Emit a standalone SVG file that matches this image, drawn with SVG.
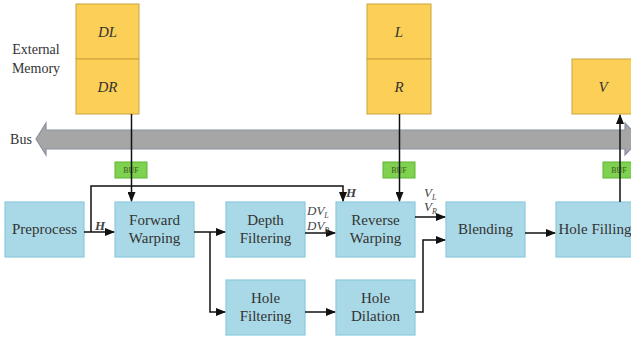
<svg xmlns="http://www.w3.org/2000/svg" width="631" height="339" viewBox="0 0 631 339" font-family="'Liberation Serif','DejaVu Serif',serif">
<defs>
<marker id="ah" markerWidth="10" markerHeight="8" refX="9" refY="4" orient="auto" markerUnits="userSpaceOnUse">
<path d="M0,0 L10,4 L0,8 z" fill="#111"/>
</marker>
<style>
text{font-family:'Liberation Serif','DejaVu Serif',serif}
.blk{fill:#a9d9e6;stroke:#8ccadc;stroke-width:1.2}
.mem{fill:#fcd057;stroke:#caa43c;stroke-width:1}
.buf{fill:#7ed24f;stroke:#5fb535;stroke-width:1}
.t{font-size:15px;fill:#333;text-anchor:middle}
.ti{font-size:15px;font-style:italic;fill:#333;text-anchor:middle}
.bt{font-size:8px;fill:#3b5a1f;text-anchor:middle}
.lab{font-size:13px;font-style:italic;fill:#444}
.sub{font-size:8px}
.ln{fill:none;stroke:#111;stroke-width:1.5}
</style>
</defs>
<rect width="631" height="339" fill="#fff"/>

<text class="t" x="36" y="54" style="font-size:14px">External</text>
<text class="t" x="36" y="73" style="font-size:14px">Memory</text>
<text class="t" x="21" y="144" style="font-size:14px">Bus</text>

<g id="bus">
<polygon points="36,139 46,123 46,130 625,130 625,123 640,139 625,155 625,149 46,149 46,155" fill="#a6a6a6" stroke="#8890a0" stroke-width="1.2"/>
</g>

<g id="mem-d">
<rect class="mem" x="76" y="4" width="63" height="55"/>
<rect class="mem" x="76" y="59" width="63" height="55"/>
<text class="ti" x="107.5" y="37">DL</text>
<text class="ti" x="107.5" y="92">DR</text>
</g>
<g id="mem-lr">
<rect class="mem" x="367" y="4" width="64" height="55"/>
<rect class="mem" x="367" y="59" width="64" height="55"/>
<text class="ti" x="399" y="37">L</text>
<text class="ti" x="399" y="92">R</text>
</g>
<g id="mem-v">
<rect class="mem" x="572" y="59" width="70" height="55"/>
<text class="ti" x="603" y="92">V</text>
</g>

<g id="buf1"><rect class="buf" x="115" y="162" width="32" height="16"/><text class="bt" x="131" y="173">BUF</text></g>
<g id="buf2"><rect class="buf" x="383" y="162" width="32" height="16"/><text class="bt" x="399" y="173">BUF</text></g>
<g id="buf3"><rect class="buf" x="603" y="162" width="32" height="16"/><text class="bt" x="619" y="173">BUF</text></g>

<g id="preprocess"><rect class="blk" x="5" y="202" width="79" height="55"/><text class="t" x="44.5" y="234">Preprocess</text></g>
<g id="forward-warping"><rect class="blk" x="115" y="202" width="79" height="55"/><text class="t" x="154.5" y="225">Forward</text><text class="t" x="154.5" y="243">Warping</text></g>
<g id="depth-filtering"><rect class="blk" x="226" y="202" width="79" height="55"/><text class="t" x="265.5" y="225">Depth</text><text class="t" x="265.5" y="243">Filtering</text></g>
<g id="hole-filtering"><rect class="blk" x="226" y="280" width="79" height="55"/><text class="t" x="265.5" y="303">Hole</text><text class="t" x="265.5" y="321">Filtering</text></g>
<g id="reverse-warping"><rect class="blk" x="336" y="202" width="79" height="55"/><text class="t" x="375.5" y="225">Reverse</text><text class="t" x="375.5" y="243">Warping</text></g>
<g id="hole-dilation"><rect class="blk" x="336" y="280" width="79" height="55"/><text class="t" x="375.5" y="303">Hole</text><text class="t" x="375.5" y="321">Dilation</text></g>
<g id="blending"><rect class="blk" x="446" y="202" width="79" height="55"/><text class="t" x="485.5" y="234">Blending</text></g>
<g id="hole-filling"><rect class="blk" x="556" y="202" width="80" height="55"/><text class="t" x="595" y="234">Hole Filling</text></g>

<g id="connectors">
<line class="ln" x1="131.5" y1="114" x2="131.5" y2="201" marker-end="url(#ah)"/>
<line class="ln" x1="399.5" y1="114" x2="399.5" y2="201" marker-end="url(#ah)"/>
<line class="ln" x1="620" y1="202" x2="620" y2="115" marker-end="url(#ah)"/>
<line class="ln" x1="84" y1="232" x2="114" y2="232" marker-end="url(#ah)"/>
<polyline class="ln" points="91,232 91,186 343,186 343,201" marker-end="url(#ah)"/>
<line class="ln" x1="194" y1="232" x2="225" y2="232" marker-end="url(#ah)"/>
<polyline class="ln" points="210,232 210,312 225,312" marker-end="url(#ah)"/>
<line class="ln" x1="305" y1="233" x2="335" y2="233" marker-end="url(#ah)"/>
<line class="ln" x1="305" y1="312" x2="335" y2="312" marker-end="url(#ah)"/>
<line class="ln" x1="415" y1="217" x2="445" y2="217" marker-end="url(#ah)"/>
<polyline class="ln" points="415,312 423,312 423,240 445,240" marker-end="url(#ah)"/>
<line class="ln" x1="525" y1="233" x2="555" y2="233" marker-end="url(#ah)"/>
<text class="lab" x="95" y="230" style="font-weight:bold">H</text>
<text class="lab" x="346" y="197" style="font-weight:bold">H</text>
<text class="lab" x="307" y="215">DV<tspan class="sub" dy="3">L</tspan></text>
<text class="lab" x="307" y="230">DV<tspan class="sub" dy="3">R</tspan></text>
<text class="lab" x="424" y="197">V<tspan class="sub" dy="3">L</tspan></text>
<text class="lab" x="424" y="211">V<tspan class="sub" dy="3">R</tspan></text>
</g>
</svg>
